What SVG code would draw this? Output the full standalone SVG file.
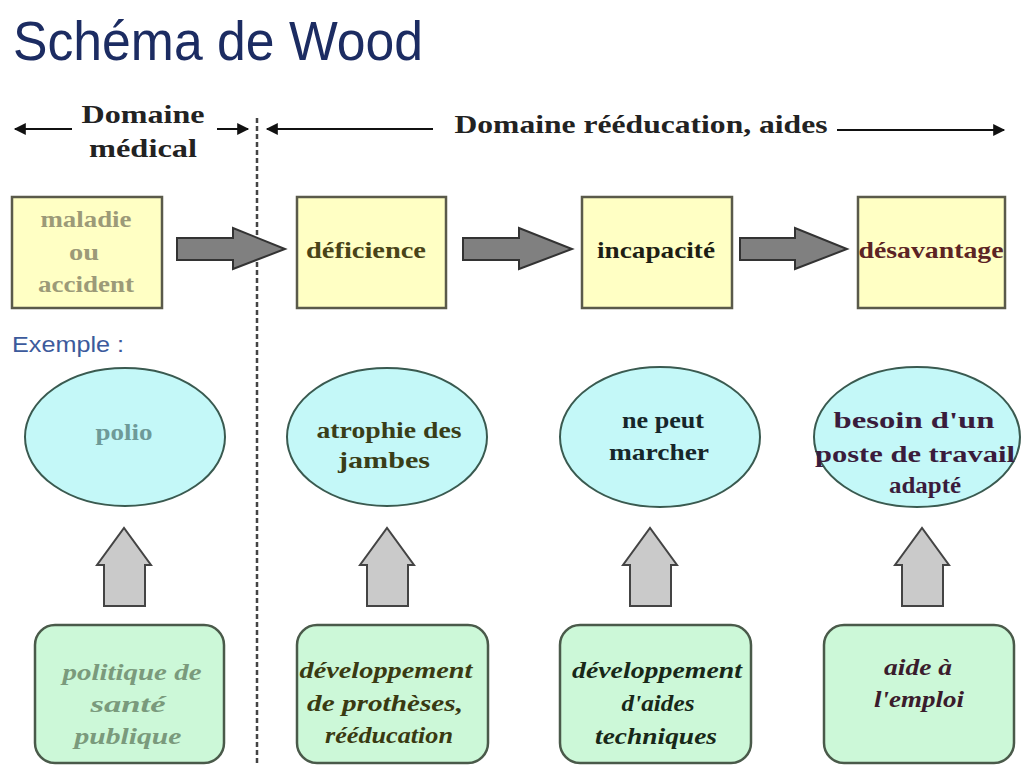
<svg xmlns="http://www.w3.org/2000/svg" width="1024" height="765" viewBox="0 0 1024 765">
<defs>
<style>
.t{font-family:"Liberation Serif","Times New Roman",serif;font-weight:bold;font-size:24px;text-anchor:middle}
.h{font-size:25px}
.i{font-style:italic}
.box{fill:#ffffc4;stroke:#5a5a4a;stroke-width:2.5}
.ell{fill:#c4f8f8;stroke:#3a5a50;stroke-width:2}
.rr{fill:#ccf8d8;stroke:#4a5a4a;stroke-width:2.5}
.blk{fill:#808080;stroke:#333;stroke-width:2;stroke-linejoin:miter}
.up{fill:#cacaca;stroke:#444;stroke-width:2}
.ln{stroke:#111;stroke-width:2;fill:none}
</style>
<marker id="ah" viewBox="0 0 10 10" refX="9" refY="5" markerWidth="18" markerHeight="12" markerUnits="userSpaceOnUse" orient="auto">
<path d="M0,0 L10,5 L0,10 z" fill="#111"/>
</marker>
</defs>
<rect width="1024" height="765" fill="#fff"/>
<text x="13" y="60" font-family="Liberation Sans,Arial,sans-serif" font-size="56" fill="#1c2c62" textLength="410" lengthAdjust="spacingAndGlyphs">Schéma de Wood</text>

<g id="connectors">
<line x1="257" y1="118" x2="257" y2="765" stroke="#444" stroke-width="2.5" stroke-dasharray="5,3"/>
<line class="ln" x1="72" y1="129" x2="15" y2="129" marker-end="url(#ah)"/>
<line class="ln" x1="217" y1="129" x2="248" y2="129" marker-end="url(#ah)"/>
<line class="ln" x1="433" y1="129" x2="267" y2="129" marker-end="url(#ah)"/>
<line class="ln" x1="837" y1="130" x2="1004" y2="130" marker-end="url(#ah)"/>
<path class="blk" d="M177,238 H233 V228 L285,249 L233,269 V260 H177 Z"/>
<path class="blk" d="M463,238 H519 V228 L572,249 L519,269 V260 H463 Z"/>
<path class="blk" d="M740,238 H795 V228 L847,249 L795,269 V260 H740 Z"/>
<path class="up" d="M104,606 V565 H97 L124,528 L151,565 H145 V606 Z"/>
<path class="up" d="M367,606 V565 H360 L387,528 L414,565 H408 V606 Z"/>
<path class="up" d="M630,606 V565 H623 L650,528 L677,565 H671 V606 Z"/>
<path class="up" d="M902,606 V565 H895 L922,528 L949,565 H943 V606 Z"/>
</g>

<g id="header">
<text class="t h" x="143" y="123" fill="#222" textLength="123" lengthAdjust="spacingAndGlyphs">Domaine</text>
<text class="t h" x="143" y="157" fill="#222" textLength="108" lengthAdjust="spacingAndGlyphs">médical</text>
<text class="t h" x="641" y="133" fill="#222" textLength="373" lengthAdjust="spacingAndGlyphs">Domaine rééducation, aides</text>
</g>

<g id="maladie">
<rect class="box" x="12" y="197" width="150" height="111"/>
<text class="t" x="86" y="227" fill="#9c9a78" textLength="91" lengthAdjust="spacingAndGlyphs">maladie</text>
<text class="t" x="84" y="260" fill="#9c9a78" textLength="30" lengthAdjust="spacingAndGlyphs">ou</text>
<text class="t" x="86" y="292" fill="#9c9a78" textLength="96" lengthAdjust="spacingAndGlyphs">accident</text>
</g>
<g id="deficience">
<rect class="box" x="297" y="197" width="149" height="111"/>
<text class="t" x="366" y="258" fill="#4a4418" textLength="120" lengthAdjust="spacingAndGlyphs">déficience</text>
</g>
<g id="incapacite">
<rect class="box" x="582" y="197" width="150" height="111"/>
<text class="t" x="656" y="258" fill="#1e1e14" textLength="118" lengthAdjust="spacingAndGlyphs">incapacité</text>
</g>
<g id="desavantage">
<rect class="box" x="858" y="197" width="147" height="111"/>
<text class="t" x="931" y="258" fill="#5c2424" textLength="145" lengthAdjust="spacingAndGlyphs">désavantage</text>
</g>

<text x="12" y="352" font-family="Liberation Sans,Arial,sans-serif" font-size="22" fill="#3c5a9c" textLength="112" lengthAdjust="spacingAndGlyphs">Exemple :</text>

<g id="polio">
<ellipse class="ell" cx="125" cy="437" rx="100" ry="69"/>
<text class="t" x="124" y="440" fill="#6e9a98" textLength="57" lengthAdjust="spacingAndGlyphs">polio</text>
</g>
<g id="atrophie">
<ellipse class="ell" cx="387" cy="437" rx="100" ry="69"/>
<text class="t" x="389" y="438" fill="#3a3e18" textLength="145" lengthAdjust="spacingAndGlyphs">atrophie des</text>
<text class="t" x="384" y="468" fill="#3a3e18" textLength="92" lengthAdjust="spacingAndGlyphs">jambes</text>
</g>
<g id="nepeut">
<ellipse class="ell" cx="660" cy="437" rx="100" ry="70"/>
<text class="t" x="663" y="428" fill="#16262a" textLength="82" lengthAdjust="spacingAndGlyphs">ne peut</text>
<text class="t" x="659" y="460" fill="#16262a" textLength="100" lengthAdjust="spacingAndGlyphs">marcher</text>
</g>
<g id="besoin">
<ellipse class="ell" cx="917" cy="437" rx="103" ry="70"/>
<text class="t" x="914" y="428" fill="#3a1c3c" textLength="161" lengthAdjust="spacingAndGlyphs">besoin d'un</text>
<text class="t" x="915" y="462" fill="#3a1c3c" textLength="200" lengthAdjust="spacingAndGlyphs">poste de travail</text>
<text class="t" x="925" y="493" fill="#3a1c3c" textLength="72" lengthAdjust="spacingAndGlyphs">adapté</text>
</g>

<g id="politique">
<rect class="rr" x="35" y="625" width="189" height="138" rx="20"/>
<text class="t i" x="132" y="680" fill="#7a9a7c" textLength="139" lengthAdjust="spacingAndGlyphs">politique de</text>
<text class="t i" x="128" y="712" fill="#7a9a7c" textLength="75" lengthAdjust="spacingAndGlyphs">santé</text>
<text class="t i" x="128" y="744" fill="#7a9a7c" textLength="107" lengthAdjust="spacingAndGlyphs">publique</text>
</g>
<g id="protheses">
<rect class="rr" x="297" y="625" width="191" height="138" rx="20"/>
<text class="t i" x="386" y="678" fill="#3a3a12" textLength="173" lengthAdjust="spacingAndGlyphs">développement</text>
<text class="t i" x="385" y="711" fill="#3a3a12" textLength="156" lengthAdjust="spacingAndGlyphs">de prothèses,</text>
<text class="t i" x="389" y="743" fill="#3a3a12" textLength="128" lengthAdjust="spacingAndGlyphs">rééducation</text>
</g>
<g id="aidestech">
<rect class="rr" x="560" y="625" width="191" height="138" rx="20"/>
<text class="t i" x="657" y="678" fill="#182818" textLength="170" lengthAdjust="spacingAndGlyphs">développement</text>
<text class="t i" x="658" y="711" fill="#182818" textLength="73" lengthAdjust="spacingAndGlyphs">d'aides</text>
<text class="t i" x="656" y="744" fill="#182818" textLength="122" lengthAdjust="spacingAndGlyphs">techniques</text>
</g>
<g id="emploi">
<rect class="rr" x="824" y="625" width="190" height="138" rx="20"/>
<text class="t i" x="918" y="675" fill="#3a1c2c" textLength="68" lengthAdjust="spacingAndGlyphs">aide à</text>
<text class="t i" x="919" y="707" fill="#3a1c2c" textLength="90" lengthAdjust="spacingAndGlyphs">l'emploi</text>
</g>
</svg>
